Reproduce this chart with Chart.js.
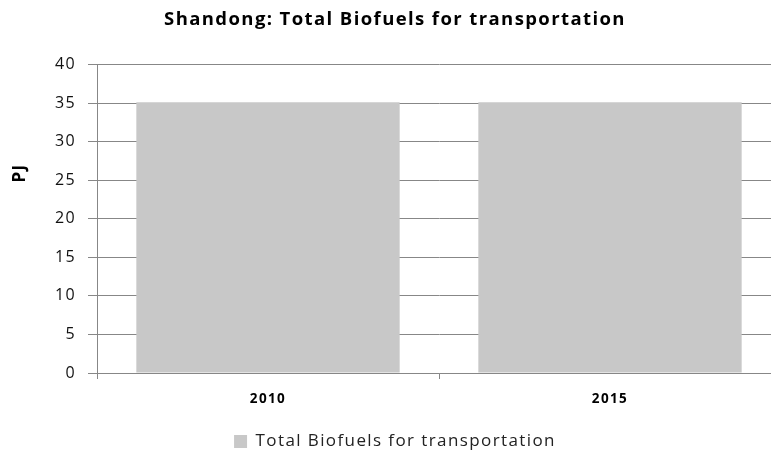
<!DOCTYPE html>
<html>
<head>
<meta charset="utf-8">
<script src="https://cdn.jsdelivr.net/npm/chart.js@4/dist/chart.umd.min.js"></script>
<style>
  html, body { margin: 0; padding: 0; background: #fff; overflow: hidden; }
  #wrap { width: 771px; height: 456px; overflow: hidden; }
</style>
</head>
<body>
<div id="wrap"><canvas id="chart" width="790" height="460"></canvas></div>
<script>
// 데이터
const years = ["2010", "2015"];
const biofuels = [35.1, 35.1];
const seriesName = "Total Biofuels for transportation";
const yTicks = [0, 5, 10, 15, 20, 25, 30, 35, 40];

const gridGray = "#878787";
const fontFam = "'Open Sans', 'DejaVu Sans', sans-serif";
const spacing = "1.4px";

// 엑셀 글자처럼 자간을 조금 넓힘
const spacingPlugin = {
  id: "spacing",
  beforeLayout(chart) { chart.ctx.letterSpacing = spacing; },
  beforeDraw(chart) { chart.ctx.letterSpacing = spacing; }
};

// y축 제목 (PJ) - 조금 위쪽에 둠
const yTitlePlugin = {
  id: "yTitle",
  afterDraw(chart) {
    const ctx = chart.ctx;
    ctx.save();
    ctx.translate(20, 173);
    ctx.rotate(-Math.PI / 2);
    ctx.font = "bold 17px " + fontFam;
    ctx.fillStyle = "#000";
    ctx.textAlign = "center";
    ctx.textBaseline = "middle";
    ctx.fillText("PJ", 0, 0);
    ctx.restore();
  }
};

new Chart(document.getElementById("chart").getContext("2d"), {
  type: "bar",
  data: {
    labels: years,
    datasets: [{
      label: seriesName,
      data: biofuels,
      backgroundColor: "#c8c8c8",
      borderWidth: 0,
      categoryPercentage: 1,
      barPercentage: 0.77
    }]
  },
  options: {
    responsive: false,
    animation: false,
    layout: { padding: 0 },
    plugins: {
      title: {
        display: true,
        text: "Shandong: Total Biofuels for transportation",
        color: "#000",
        font: { family: fontFam, size: 18.5, weight: "bold" },
        padding: { top: 9, bottom: 33.3 }
      },
      legend: {
        position: "bottom",
        labels: {
          color: "#222",
          font: { family: fontFam, size: 17 },
          boxWidth: 13,
          boxHeight: 13,
          padding: 10
        }
      },
      tooltip: { enabled: false }
    },
    scales: {
      x: {
        grid: { drawOnChartArea: false, color: gridGray, tickLength: 6 },
        border: { color: gridGray },
        ticks: {
          color: "#000",
          font: { family: fontFam, size: 13.5, weight: "bold" },
          padding: 12,
          maxRotation: 0
        },
        afterFit: s => { s.height = 50; }
      },
      y: {
        min: 0,
        max: 40,
        afterBuildTicks: s => { s.ticks = yTicks.map(v => ({ value: v })); },
        grid: { color: gridGray, tickLength: 9 },
        border: { color: gridGray },
        ticks: {
          color: "#111",
          font: { family: fontFam, size: 16 },
          padding: 12
        },
        afterFit: s => { s.width = 97; }
      },
      yRight: {
        position: "right",
        display: true,
        grid: { display: false },
        border: { display: false },
        ticks: { display: false },
        afterFit: s => { s.width = 9; }
      }
    }
  },
  plugins: [spacingPlugin, yTitlePlugin]
});
</script>
</body>
</html>
